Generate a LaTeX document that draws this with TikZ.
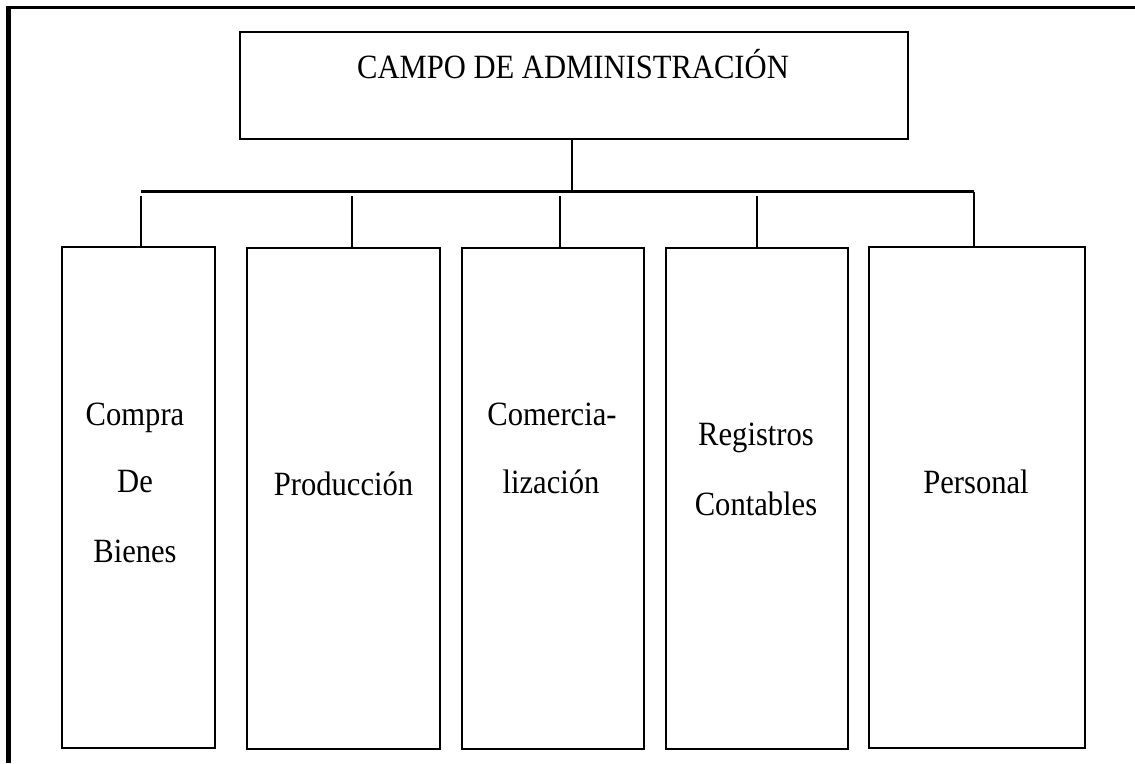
\documentclass[tikz,border=0pt]{standalone}
\usepackage{fontspec}
\setmainfont{Liberation Serif}[FakeStretch=0.9]
\begin{document}
\begin{tikzpicture}[x=1pt,y=-1pt,
  box/.style={draw, line width=2pt, inner sep=0pt},
  lbl/.style={anchor=base, inner sep=0pt, font=\fontsize{34}{40}\selectfont},
  conn/.style={line width=2pt},
  bus/.style={line width=2.6pt}]
\useasboundingbox (0,0) rectangle (1135,763);
% outer frame (top and left only)
\draw[line width=2.6pt] (7.5,763) -- (7.5,7.5) -- (1135,7.5);
\draw[line width=3.6pt] (9,7.5) -- (9,763);
% boxes
\node[box, minimum width=668pt, minimum height=107pt] (top) at (574,85.5) {};
\node[box, minimum width=153pt, minimum height=501pt] (b1) at (138.5,497.5) {};
\node[box, minimum width=193pt, minimum height=501pt] (b2) at (343.5,498) {};
\node[box, minimum width=182pt, minimum height=501pt] (b3) at (553,498) {};
\node[box, minimum width=182.5pt, minimum height=501pt] (b4) at (756.75,498) {};
\node[box, minimum width=216pt, minimum height=501pt] (b5) at (977,497.5) {};
% labels
\node[lbl] (tt) at (573,78) {CAMPO DE ADMINISTRACIÓN};
\node[lbl] (l1a) at (135,425) {Compra};
\node[lbl] (l1b) at (135,492) {De};
\node[lbl] (l1c) at (135,562) {Bienes};
\node[lbl] (l2) at (343.5,495) {Producción};
\node[lbl] (l3a) at (552,425) {Comercia-};
\node[lbl] (l3b) at (551,493) {lización};
\node[lbl] (l4a) at (756,445) {Registros};
\node[lbl] (l4b) at (756,515) {Contables};
\node[lbl] (l5) at (976,493) {Personal};
% connectors
\coordinate (busL) at (141,191.5);
\coordinate (busR) at (974,191.5);
\coordinate (c0) at (571.7,191.5);
\coordinate (s1) at (141,196);
\coordinate (s2) at (352.3,196);
\coordinate (s3) at (560,196);
\coordinate (s4) at (756.7,196);
\draw[bus] (busL) -- (busR);
\draw[conn] (top.south -| c0) -- (c0);
\draw[conn] (s1) -- (s1 |- b1.north);
\draw[conn] (s2) -- (s2 |- b2.north);
\draw[conn] (s3) -- (s3 |- b3.north);
\draw[conn] (s4) -- (s4 |- b4.north);
\draw[conn] (busR) -- (busR |- b5.north);
\end{tikzpicture}
\end{document}
